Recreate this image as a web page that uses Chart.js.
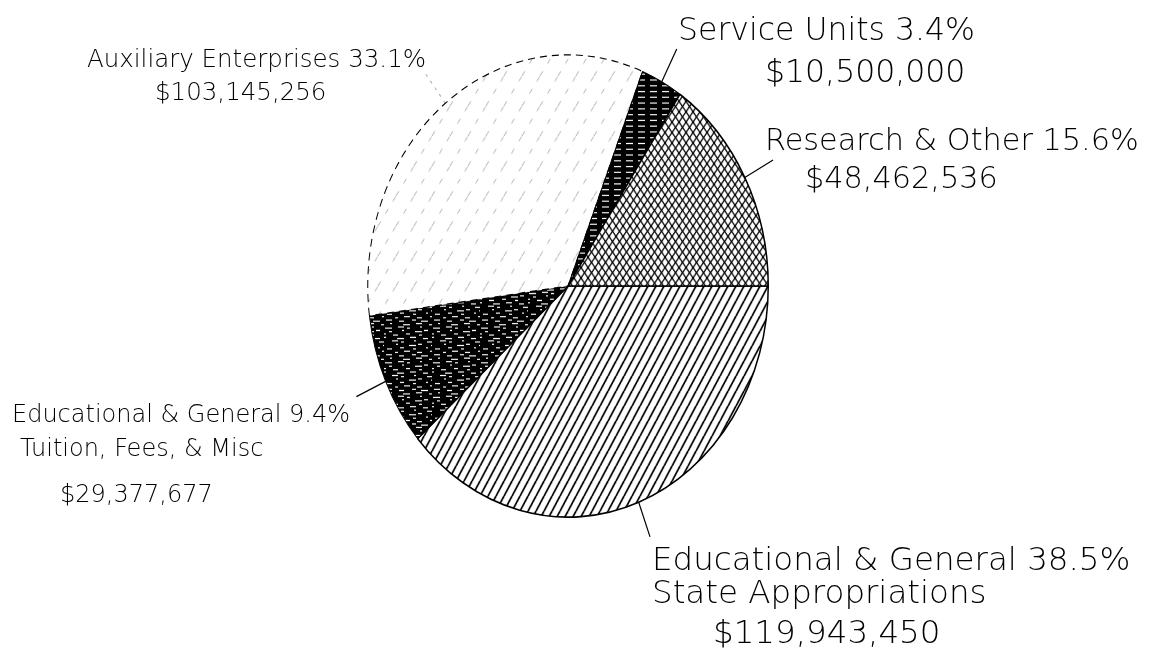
<!DOCTYPE html>
<html>
<head>
<meta charset="utf-8">
<script src="https://cdn.jsdelivr.net/npm/chart.js@4.4.1/dist/chart.umd.min.js"></script>
<style>
  html, body { margin: 0; padding: 0; background: #fff; }
  canvas { display: block; }
</style>
</head>
<body>
<canvas id="budgetChart" width="1166" height="663"></canvas>
<script>
// budget slices, clockwise from 3 o'clock
const categories = [
  "Educational & General",
  "Educational & General",
  "Auxiliary Enterprises",
  "Service Units",
  "Research & Other",
];
const subtitles = ["State Appropriations", "Tuition, Fees, & Misc", "", "", ""];
const amounts = [119943450, 29377677, 103145256, 10500000, 48462536];

// label placement (left x of each line, baseline y), font size
const labelLayout = [
  { size: 32.5, lines: [[652, 570], [652, 603], [713, 643]] },
  { size: 24, lines: [[12, 422], [20, 456], [60, 502]] },
  { size: 24.5, lines: [[87, 67], [155, 100]] },
  { size: 31.5, lines: [[678, 40], [765, 82]] },
  { size: 30.3, lines: [[765, 150], [805, 188]] },
];
const stretchY = 232 / 201; // the pie is drawn as a tall ellipse

const canvas = document.getElementById("budgetChart");
const ctx = canvas.getContext("2d");

function makePattern(w, h, drawFn) {
  const c = document.createElement("canvas");
  c.width = w;
  c.height = h;
  const g = c.getContext("2d");
  drawFn(g, w, h);
  return ctx.createPattern(c, "repeat");
}

function diagLines(g, w, h, slopeDir) {
  for (let k = -1; k <= 1; k++) {
    g.beginPath();
    if (slopeDir > 0) {
      g.moveTo(k * w, h);
      g.lineTo(k * w + w, 0);
    } else {
      g.moveTo(k * w, 0);
      g.lineTo(k * w + w, h);
    }
    g.stroke();
  }
}

// hatching like the old plotter fills
const hatchState = makePattern(8, 13, (g, w, h) => {
  g.fillStyle = "#fff";
  g.fillRect(0, 0, w, h);
  g.strokeStyle = "#000";
  g.lineWidth = 1.7;
  diagLines(g, w, h, 1);
});

const hatchTuition = makePattern(48, 30, (g, w, h) => {
  g.fillStyle = "#000";
  g.fillRect(0, 0, w, h);
  g.fillStyle = "#fff";
  for (let r = 0; r < 10; r++) {
    for (let k = 0; k < 4; k++) {
      const len = 2 + ((r * 7 + k * 5) % 6);
      const x = (k * 13 + r * 17) % w;
      g.fillRect(x, r * 3 + ((k + r) % 2), len, 1);
    }
  }
});

const hatchAux = makePattern(18, 26, (g, w, h) => {
  g.fillStyle = "#fff";
  g.fillRect(0, 0, w, h);
  g.strokeStyle = "rgba(0,0,0,0.3)";
  g.lineWidth = 1;
  g.setLineDash([5, 8]);
  diagLines(g, w, h, 1);
});

const hatchService = makePattern(12, 5, (g, w, h) => {
  g.fillStyle = "#000";
  g.fillRect(0, 0, w, h);
  g.fillStyle = "#fff";
  g.fillRect(2, 2, 7, 1);
});

const hatchResearch = makePattern(7, 9, (g, w, h) => {
  g.fillStyle = "#fff";
  g.fillRect(0, 0, w, h);
  g.strokeStyle = "#000";
  g.lineWidth = 1.2;
  diagLines(g, w, h, 1);
  diagLines(g, w, h, -1);
});

const fills = [hatchState, hatchTuition, hatchAux, hatchService, hatchResearch];

const total = amounts.reduce((a, b) => a + b, 0);

function labelLines(i) {
  const pct = ((amounts[i] / total) * 100).toFixed(1);
  const lines = [categories[i] + " " + pct + "%"];
  if (subtitles[i]) lines.push(subtitles[i]);
  lines.push("$" + amounts[i].toLocaleString("en-US"));
  return lines;
}

const ellipsePlugin = {
  id: "ellipse",
  beforeDatasetsDraw(chart) {
    const arc = chart.getDatasetMeta(0).data[0];
    const c = chart.ctx;
    c.save();
    c.translate(arc.x, arc.y);
    c.scale(1, stretchY);
    c.translate(-arc.x, -arc.y);
  },
  afterDatasetsDraw(chart) {
    const c = chart.ctx;
    c.restore();

    const arcs = chart.getDatasetMeta(0).data;
    arcs.forEach((arc, i) => {
      const mid = (arc.startAngle + arc.endAngle) / 2;
      const r = arc.outerRadius;
      const x0 = arc.x + r * Math.cos(mid);
      const y0 = arc.y + r * stretchY * Math.sin(mid);
      const x1 = arc.x + r * 1.16 * Math.cos(mid);
      const y1 = arc.y + r * 1.16 * stretchY * Math.sin(mid);

      c.save();
      c.beginPath();
      c.moveTo(x0, y0);
      c.lineTo(x1, y1);
      if (i === 2) {
        c.setLineDash([3, 5]);
        c.strokeStyle = "rgba(0,0,0,0.3)";
      } else {
        c.strokeStyle = "#000";
      }
      c.lineWidth = 1.2;
      c.stroke();
      c.restore();

      const lay = labelLayout[i];
      const texts = labelLines(i);
      c.save();
      c.fillStyle = "#000";
      c.font = "200 " + lay.size + "px 'DejaVu Sans'";
      c.textBaseline = "alphabetic";
      c.textAlign = "left";
      texts.forEach((t, j) => {
        c.fillText(t, lay.lines[j][0], lay.lines[j][1]);
      });
      c.restore();
    });
  },
};

new Chart(ctx, {
  type: "pie",
  data: {
    labels: categories,
    datasets: [
      {
        data: amounts,
        backgroundColor: fills,
        borderColor: "#000",
        borderWidth: [1.5, 1, 1, 1, 1.5],
        borderDash: (c) => (c.dataIndex === 2 ? [7, 5] : []),
        clip: false,
      },
    ],
  },
  options: {
    responsive: false,
    animation: false,
    devicePixelRatio: 1,
    events: [],
    rotation: 90,
    layout: {
      padding: { left: 367, right: 397, top: 85, bottom: 176 },
    },
    plugins: {
      legend: { display: false },
      tooltip: { enabled: false },
    },
  },
  plugins: [ellipsePlugin],
});
</script>
</body>
</html>
